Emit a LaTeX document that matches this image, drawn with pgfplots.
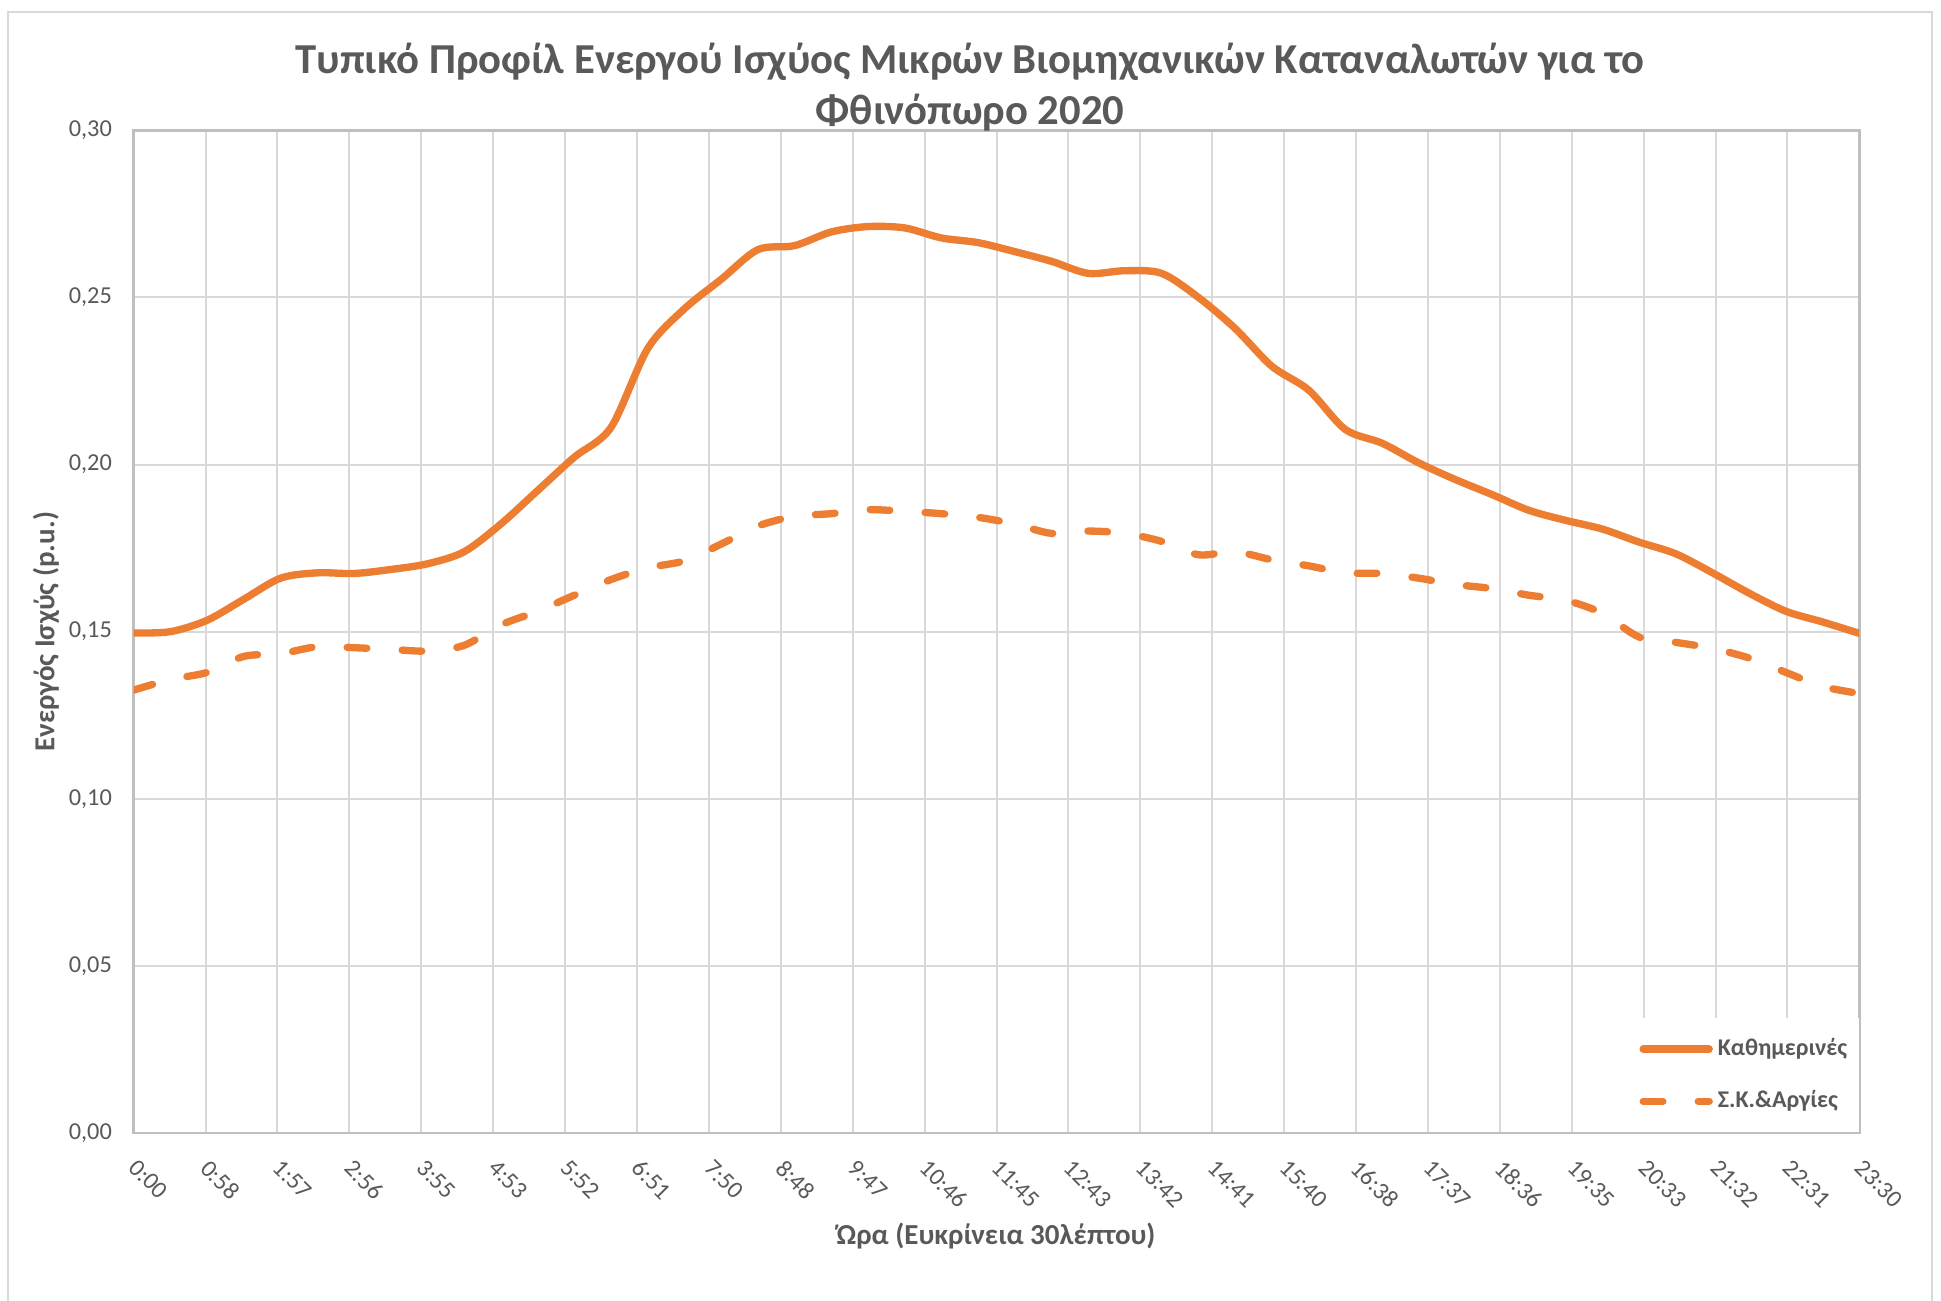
\documentclass[border=0pt]{standalone}
\usepackage{fontspec}
\setmainfont{Carlito}
\usepackage{pgfplots}
\pgfplotsset{compat=1.18}
\definecolor{orng}{HTML}{ED7D31}
\definecolor{txt}{HTML}{595959}
\definecolor{grd}{HTML}{D9D9D9}
\definecolor{axl}{HTML}{BFBFBF}
\begin{document}
\begin{tikzpicture}
\path[use as bounding box] (-40.1pt,-50.1pt) rectangle (542.2pt,339.9pt);
\draw[grd, line width=0.6pt] (-37.7pt,-52pt) -- (-37.7pt,336.3pt) -- (539.5pt,336.3pt) -- (539.5pt,-52pt);
\begin{axis}[
  at={(0,0)}, anchor=south west,
  width=517.7pt, height=300.8pt, scale only axis,
  xmin=0, xmax=23.5, ymin=0, ymax=0.30,
  xtick={0,0.9791667,1.9583333,2.9375,3.9166667,4.8958333,5.875,6.8541667,7.8333333,8.8125,9.7916667,10.7708333,11.75,12.7291667,13.7083333,14.6875,15.6666667,16.6458333,17.625,18.6041667,19.5833333,20.5625,21.5416667,22.5208333,23.5},
  xticklabels={0:00,0:58,1:57,2:56,3:55,4:53,5:52,6:51,7:50,8:48,9:47,10:46,11:45,12:43,13:42,14:41,15:40,16:38,17:37,18:36,19:35,20:33,21:32,22:31,23:30},
  ytick={0,0.05,0.10,0.15,0.20,0.25,0.30},
  grid=major, major grid style={grd, line width=0.6pt},
  axis line style={axl, line width=0.8pt},
  major tick length=0pt,
  tick label style={font=\fontsize{7.3}{8}\selectfont, text=txt},
  /pgf/number format/fixed, /pgf/number format/fixed zerofill,
  /pgf/number format/precision=2, /pgf/number format/use comma,
  /pgf/number format/assume math mode=true,
  xticklabel style={rotate=-45, anchor=north west, xshift=3.0pt, yshift=-0.7pt},
  yticklabel style={anchor=east, xshift=-3pt},
  legend style={at={(1,0)}, anchor=south east, draw=none, fill=white,
    font=\bfseries\fontsize{7.2}{9}\selectfont, text=txt, row sep=5pt,
    inner xsep=2pt, inner ysep=4pt, nodes={inner xsep=1.5pt}},
  legend cell align=left,
  legend image code/.code={\draw[#1] (0pt,0pt) -- (19.8pt,0pt);},
]
\addplot[orng, line width=2.2pt, smooth, line cap=round, line join=round] coordinates {
(0,0.1496) (0.5,0.1500) (1.0,0.1534) (1.5,0.1597) (2.0,0.1660) (2.5,0.1676)
(3.0,0.1674) (3.5,0.1686) (4.0,0.1703) (4.5,0.1739) (5.0,0.1822) (5.5,0.1922)
(6.0,0.2022) (6.5,0.2111) (7.0,0.2347) (7.5,0.2466) (8.0,0.2554) (8.5,0.2643)
(9.0,0.2655) (9.5,0.2696) (10.0,0.2712) (10.5,0.2708) (11.0,0.2678) (11.5,0.2664)
(12.0,0.2637) (12.5,0.2608) (13.0,0.2572) (13.5,0.2580) (14.0,0.2572) (14.5,0.2500)
(15.0,0.2407) (15.5,0.2294) (16.0,0.2223) (16.5,0.2105) (17.0,0.2064) (17.5,0.2005)
(18.0,0.1955) (18.5,0.1910) (19.0,0.1863) (19.5,0.1833) (20.0,0.1807) (20.5,0.1768)
(21.0,0.1733) (21.5,0.1676) (22.0,0.1615) (22.5,0.1561) (23.0,0.1529) (23.5,0.1495)
};
\addlegendentry{Καθημερινές}
\addplot[orng, line width=2.2pt, smooth, line cap=round, line join=round, dash pattern=on 5.9pt off 10.6pt] coordinates {
(0,0.1325) (0.5,0.1357) (1.0,0.1378) (1.5,0.1426) (2.0,0.1434) (2.5,0.1455)
(3.0,0.1452) (3.5,0.1447) (4.0,0.1442) (4.5,0.1459) (5.0,0.1520) (5.5,0.1561)
(6.0,0.1609) (6.5,0.1656) (7.0,0.1691) (7.5,0.1712) (8.0,0.1762) (8.5,0.1816)
(9.0,0.1845) (9.5,0.1853) (10.0,0.1865) (10.5,0.1860) (11.0,0.1853) (11.5,0.1842)
(12.0,0.1822) (12.5,0.1794) (13.0,0.1801) (13.5,0.1794) (14.0,0.1770) (14.5,0.1730)
(15.0,0.1739) (15.5,0.1715) (16.0,0.1697) (16.5,0.1676) (17.0,0.1674) (17.5,0.1660)
(18.0,0.1641) (18.5,0.1629) (19.0,0.1609) (19.5,0.1594) (20.0,0.1555) (20.5,0.1484)
(21.0,0.1468) (21.5,0.1450) (22.0,0.1421) (22.5,0.1378) (23.0,0.1336) (23.5,0.1315)
};
\addlegendentry{Σ.Κ.\&Αργίες}
\end{axis}
\node[anchor=base, font=\bfseries\fontsize{12.8}{15}\selectfont, text=txt] at (250.9pt,317.7pt) {Τυπικό Προφίλ Ενεργού Ισχύος Μικρών Βιομηχανικών Καταναλωτών για το};
\node[anchor=base, font=\bfseries\fontsize{12.8}{15}\selectfont, text=txt] at (250.9pt,302.4pt) {Φθινόπωρο 2020};
\node[anchor=base, font=\bfseries\fontsize{8.7}{10}\selectfont, text=txt] at (258.7pt,-33.3pt) {Ώρα (Ευκρίνεια 30λέπτου)};
\node[rotate=90, font=\bfseries\fontsize{8.7}{10}\selectfont, text=txt] at (-26.3pt,150.4pt) {Ενεργός Ισχύς (p.u.)};
\end{tikzpicture}
\end{document}
